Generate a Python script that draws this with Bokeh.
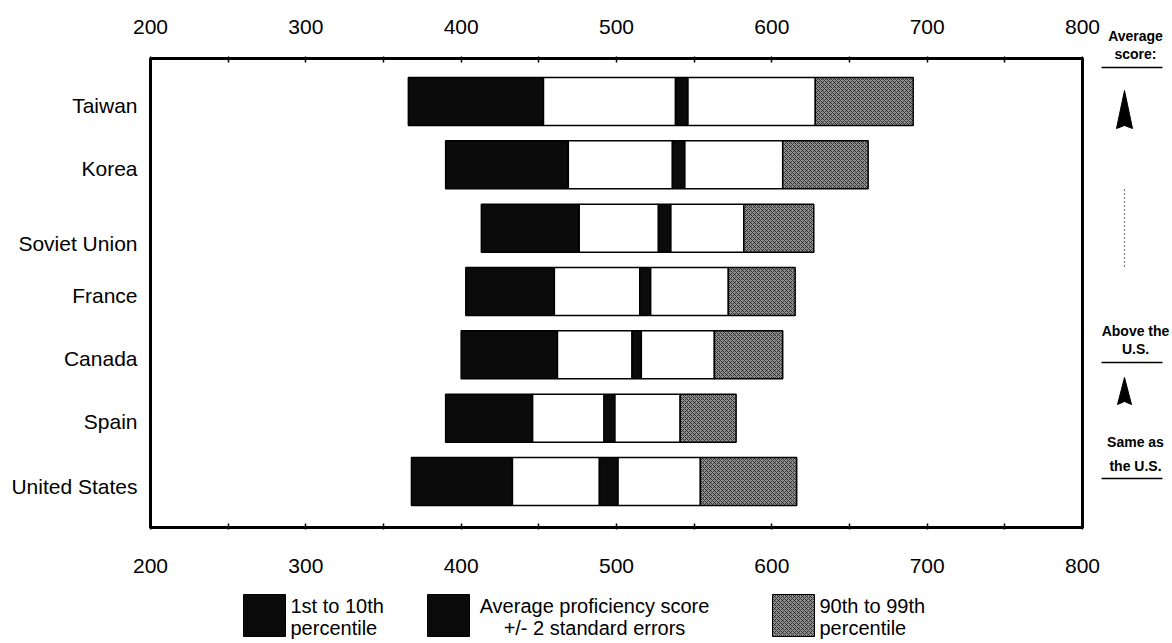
from bokeh.plotting import figure
from bokeh.models import Range1d, LinearAxis, FixedTicker
from bokeh.layouts import column, row
from bokeh.embed import file_html
from bokeh.resources import INLINE
from bokeh.core.properties import value

# ---------------- data ----------------
countries = ["Taiwan", "Korea", "Soviet Union", "France", "Canada", "Spain", "United States"]
p1 = [366, 390, 413, 403, 400, 390, 368]          # 1st percentile
p10 = [453, 469, 476, 460, 462, 446, 433]         # 10th percentile
se_low = [538, 536, 527, 515, 510, 492, 489]      # average - 2 SE
se_high = [546, 544, 535, 522, 516, 499, 501]     # average + 2 SE
p90 = [628, 607, 582, 572, 563, 541, 554]         # 90th percentile
p99 = [691, 662, 627, 615, 607, 577, 616]         # 99th percentile
x_ticks = [200, 300, 400, 500, 600, 700, 800]
x_minor = [250, 350, 450, 550, 650, 750]
legend_line1 = ["1st to 10th", "Average proficiency score", "90th to 99th"]
legend_line2 = ["percentile", "+/- 2 standard errors", "percentile"]
side_notes = [("Average", "score:"), ("Above the", "U.S."), ("Same as", "the U.S.")]

# ---------------- geometry (screen pixels) ----------------
W_MAIN, W_NOTE, H_TOP, H_LEG = 1100, 72, 590, 53
W_ALL = W_MAIN + W_NOTE
BOX_L, BOX_R, BOX_T, BOX_B = 150, 1082, 58, 527
FR_L, FR_R, FR_T, FR_B = 148, 1084, 56, 529
XPX = (BOX_R - BOX_L) / 600.0
ROW_PX = 63.33
US_CY = 481
BAR_H = 48 / ROW_PX
FONT = "Liberation Sans"


def x_at(sx):
    return 200 + (sx - BOX_L) / XPX


def y_at(sy):
    return (US_CY - sy) / ROW_PX


def no_align(fig):
    try:
        fig.frame_align = False
    except Exception:
        pass


n = len(countries)
ys = [n - 1 - i for i in range(n)]

p = figure(width=W_MAIN, height=H_TOP, title=None,
           x_range=Range1d(x_at(FR_L), x_at(FR_R)),
           y_range=Range1d(y_at(FR_B), y_at(FR_T)),
           output_backend="svg", toolbar_location=None,
           min_border_left=FR_L, min_border_right=W_MAIN - FR_R,
           min_border_top=FR_T, min_border_bottom=H_TOP - FR_B,
           x_axis_location="below")
no_align(p)
p.outline_line_color = None
p.grid.visible = False
p.background_fill_color = "white"
p.border_fill_color = "white"

DARK = "#0b0b0b"
GRAY = "#8e8e8e"
hatch_kw = dict(hatch_pattern="diagonal_cross", hatch_color="#1e1e1e",
                hatch_scale=4, hatch_weight=0.8)
seg_kw = dict(height=BAR_H, line_color="black", line_width=1.5)
p.hbar(y=ys, left=p1, right=p10, fill_color=DARK, **seg_kw)
p.hbar(y=ys, left=p10, right=se_low, fill_color="white", **seg_kw)
p.hbar(y=ys, left=se_low, right=se_high, fill_color=DARK, **seg_kw)
p.hbar(y=ys, left=se_high, right=p90, fill_color="white", **seg_kw)
p.hbar(y=ys, left=p90, right=p99, fill_color=GRAY, **hatch_kw, **seg_kw)

# frame box
p.quad(left=[200], right=[800], top=[y_at(BOX_T)], bottom=[y_at(BOX_B)],
       fill_color=None, line_color="black", line_width=3)


def style_x(ax, standoff):
    ax.ticker = FixedTicker(ticks=x_ticks, minor_ticks=x_minor)
    ax.axis_line_color = None
    ax.major_tick_in = 6
    ax.major_tick_out = 0
    ax.minor_tick_in = 6
    ax.minor_tick_out = 0
    ax.major_tick_line_color = "black"
    ax.minor_tick_line_color = "black"
    ax.major_tick_line_width = 1.5
    ax.minor_tick_line_width = 1.5
    ax.major_label_text_font = FONT
    ax.major_label_text_font_size = "21px"
    ax.major_label_text_color = "black"
    ax.major_label_standoff = standoff


style_x(p.xaxis[0], 29)
top_ax = LinearAxis()
style_x(top_ax, 23)
p.add_layout(top_ax, "above")

# country labels on the left axis
nudges = [4, 4, 15, 3.5, 3.5, 3.5, 5]
label_y = [round(ys[i] - nudges[i] / ROW_PX, 4) for i in range(n)]
yax = p.yaxis[0]
yax.ticker = FixedTicker(ticks=label_y)
yax.major_label_overrides = {label_y[i]: countries[i] for i in range(n)}
yax.axis_line_color = None
yax.major_tick_line_color = None
yax.minor_tick_line_color = None
yax.major_tick_in = 0
yax.major_tick_out = 0
yax.major_label_standoff = 11
yax.major_label_text_font = FONT
yax.major_label_text_font_size = "21px"
yax.major_label_text_color = "black"

# ---------------- right-hand notes column ----------------
nt = figure(width=W_NOTE, height=H_TOP, title=None,
            x_range=Range1d(W_MAIN, W_ALL), y_range=Range1d(H_TOP, 0),
            output_backend="svg", toolbar_location=None,
            min_border=0, x_axis_location=None, y_axis_location=None)
no_align(nt)
nt.outline_line_color = None
nt.grid.visible = False

CX = 1135
note_y = [(35, 53, 67), (330, 348, 362), (441, 465, 478)]
note_kw = dict(text_font=value(FONT), text_font_size="14px", text_font_style="bold",
               text_align="center", text_baseline="middle", text_color="black")
for (l1, l2), (a, b, ul) in zip(side_notes, note_y):
    nt.text(x=[CX, CX], y=[a, b], text=[l1, l2], **note_kw)
    nt.segment(x0=[W_MAIN + 1], x1=[1162], y0=[ul], y1=[ul],
               line_color="black", line_width=1.5)

for tip, base, cx, hw in ((90, 128, 1124, 8), (377, 404, 1124, 7)):
    nt.patch(x=[cx, cx - hw, cx, cx + hw], y=[tip, base, base - 3, base],
             fill_color="black", line_color="black", line_width=1)
nt.segment(x0=[1124], x1=[1124], y0=[189], y1=[267],
           line_color="black", line_width=1.2, line_dash="1 3")

# ---------------- legend strip ----------------
LEG_T = H_TOP
leg = figure(width=W_ALL, height=H_LEG, title=None,
             x_range=Range1d(0, W_ALL), y_range=Range1d(LEG_T + H_LEG, LEG_T),
             output_backend="svg", toolbar_location=None,
             min_border=0, x_axis_location=None, y_axis_location=None)
no_align(leg)
leg.outline_line_color = None
leg.grid.visible = False

sq_x = [264, 448, 793]
sq_y = 615
leg.rect(x=sq_x[:2], y=[sq_y] * 2, width=42, height=42, fill_color=DARK,
         line_color="black", line_width=1)
leg.rect(x=[sq_x[2]], y=[sq_y], width=42, height=42, fill_color=GRAY,
         line_color="black", line_width=1, **hatch_kw)

txt_kw = dict(text_font=value(FONT), text_font_size="20px", text_baseline="middle",
              text_color="black")
leg.text(x=[290, 819], y=[605, 605], text=[legend_line1[0], legend_line1[2]],
         text_align="left", **txt_kw)
leg.text(x=[290, 819], y=[627, 627], text=[legend_line2[0], legend_line2[2]],
         text_align="left", **txt_kw)
leg.text(x=[594], y=[605], text=[legend_line1[1]], text_align="center", **txt_kw)
leg.text(x=[594], y=[627], text=[legend_line2[1]], text_align="center", **txt_kw)

layout = column(row(p, nt, spacing=0), leg, spacing=0)
open("out.html", "w").write(file_html(layout, INLINE))
